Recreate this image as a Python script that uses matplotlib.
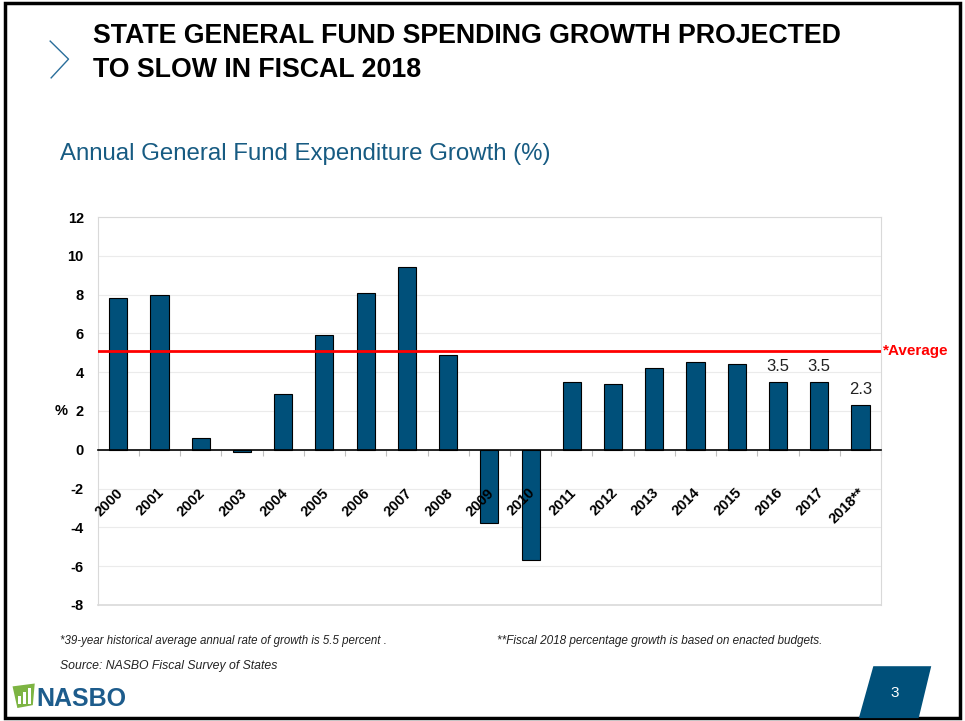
import matplotlib

matplotlib.use("Agg")
import matplotlib.pyplot as plt
import numpy as np
from matplotlib.patches import Polygon, Rectangle
from matplotlib.lines import Line2D
from matplotlib.transforms import blended_transform_factory

# annual general fund expenditure growth, % (NASBO Fiscal Survey)
years = ["2000", "2001", "2002", "2003", "2004", "2005", "2006", "2007",
         "2008", "2009", "2010", "2011", "2012", "2013", "2014", "2015",
         "2016", "2017", "2018**"]
growth = [7.8, 8.0, 0.6, -0.1, 2.9, 5.9, 8.1, 9.4, 4.9, -3.8, -5.7,
          3.5, 3.4, 4.2, 4.5, 4.4, 3.5, 3.5, 2.3]
labelled_years = ["2016", "2017", "2018**"]
average_line = 5.1
y_ticks = [12, 10, 8, 6, 4, 2, 0, -2, -4, -6, -8]

BAR = "#00507A"
TEAL = "#175B82"
plt.rcParams["font.family"] = ["Liberation Sans", "DejaVu Sans"]

fig = plt.figure(figsize=(9.65, 7.21), dpi=100)

# slide frame, header chevron and titles
fig.patches.append(Rectangle((0.005, 0.004), 0.99, 0.992, transform=fig.transFigure,
                             fill=False, edgecolor="black", linewidth=2.5))
fig.add_artist(Line2D([0.052, 0.071, 0.053], [0.943, 0.918, 0.892],
                      transform=fig.transFigure, color="#2A6E9B", linewidth=1.0))
fig.text(0.096, 0.94, "STATE GENERAL FUND SPENDING GROWTH PROJECTED",
         fontsize=19.3, fontweight="bold", va="baseline")
fig.text(0.096, 0.893, "TO SLOW IN FISCAL 2018",
         fontsize=19.3, fontweight="bold", va="baseline")
fig.text(0.062, 0.778, "Annual General Fund Expenditure Growth (%)",
         fontsize=17.3, color=TEAL, va="baseline")

ax = fig.add_axes([0.1012, 0.161, 0.8118, 0.538])
x = np.arange(len(years))
bars = ax.bar(x, growth, width=0.44, color=BAR, edgecolor="black",
              linewidth=0.8, zorder=3)

ax.axhline(average_line, color="#FF0000", linewidth=2, zorder=4)
ax.text(1.003, average_line, "*Average",
        transform=blended_transform_factory(ax.transAxes, ax.transData),
        color="#FF0000", fontsize=11, fontweight="bold", va="center", ha="left")

for rect, yr, v in zip(bars, years, growth):
    if yr in labelled_years:
        ax.annotate(f"{v:.1f}", (rect.get_x() + rect.get_width() / 2, v),
                    xytext=(0, 6), textcoords="offset points", ha="center",
                    va="bottom", fontsize=12, color="#222222")

# year labels sit just under the zero line
for xi, yr in zip(x, years):
    ax.text(xi - 0.06, -1.85, yr, rotation=45, rotation_mode="anchor",
            ha="right", va="top", fontsize=10.5, fontweight="bold")

ax.set_xlim(-0.5, len(years) - 0.5)
ax.set_ylim(-8, 12)
ax.set_yticks(y_ticks)
ax.set_yticklabels([str(t) for t in y_ticks], fontweight="bold", fontsize=10.5)
ax.tick_params(axis="y", length=0, pad=10)
ax.set_xticks(np.arange(-0.5, len(years)))
ax.set_xticklabels([])
ax.tick_params(axis="x", length=4, color="#BFBFBF", direction="out")
ax.grid(axis="y", color="#EBEBEB", linewidth=0.8, zorder=0)

for side in ("top", "left", "right"):
    ax.spines[side].set_color("#D9D9D9")
ax.spines["bottom"].set_position(("data", 0))
ax.spines["bottom"].set_color("black")
ax.spines["bottom"].set_linewidth(1.2)
ax.spines["bottom"].set_zorder(5)
ax.axhline(-8, color="#D9D9D9", linewidth=1.2, clip_on=False)

ax.set_ylabel("%", rotation=0, fontweight="bold", fontsize=10.5, ha="right", va="center")
ax.yaxis.set_label_coords(-0.038, 0.5)

# footnotes
fig.text(0.062, 0.107, "*39-year historical average annual rate of growth is 5.5 percent .",
         fontsize=8.3, style="italic", color="#222222")
fig.text(0.515, 0.107, "**Fiscal 2018 percentage growth is based on enacted budgets.",
         fontsize=8.5, style="italic", color="#222222")
fig.text(0.062, 0.072, "Source: NASBO Fiscal Survey of States", fontsize=8.8,
         style="italic", color="#222222")

# logo
fig.patches.append(Polygon([[0.013, 0.048], [0.036, 0.052], [0.034, 0.022], [0.018, 0.018]],
                           closed=True, transform=fig.transFigure, facecolor="#7DB443",
                           edgecolor="none"))
for bx, bh in ((0.019, 0.010), (0.024, 0.016), (0.029, 0.022)):
    fig.patches.append(Rectangle((bx, 0.024), 0.003, bh, transform=fig.transFigure,
                                 facecolor="white", edgecolor="none"))
fig.text(0.038, 0.021, "NASBO", fontsize=18, color="#1D5C8C",
         fontweight="bold", va="baseline")

# page number tab
fig.patches.append(Polygon([[0.905, 0.076], [0.965, 0.076], [0.952, 0.004], [0.890, 0.004]],
                           closed=True, transform=fig.transFigure, facecolor=BAR,
                           edgecolor="none"))
fig.text(0.927, 0.039, "3", fontsize=11, color="white", ha="center", va="center")

fig.savefig("out.png", dpi=100)
